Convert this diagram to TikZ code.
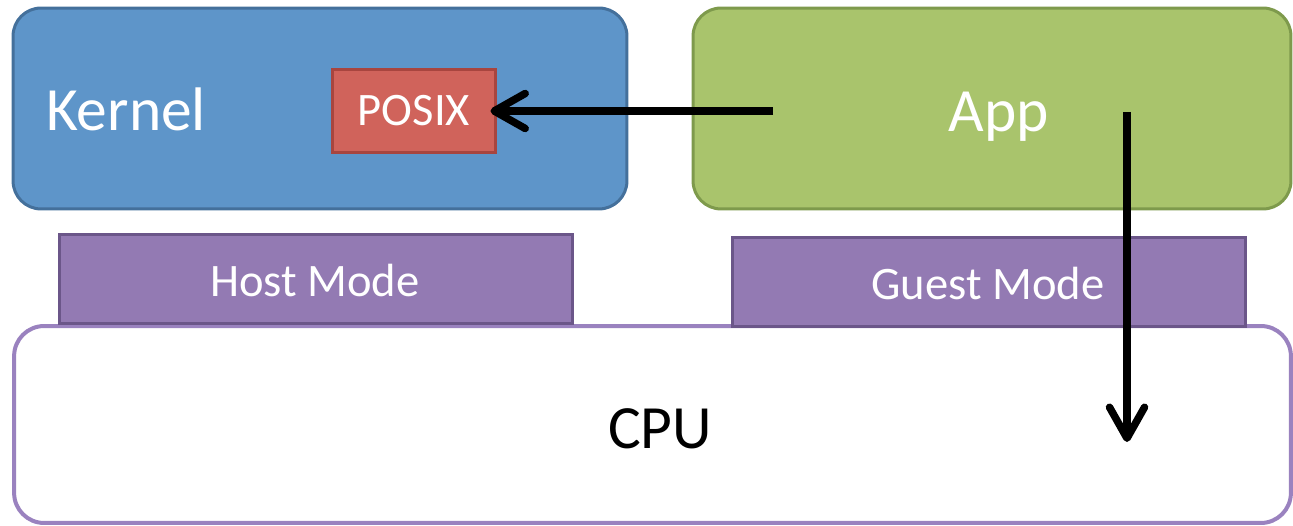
\documentclass[tikz,border=0pt]{standalone}
\usepackage{fontspec}
\setmainfont{Carlito}
\usetikzlibrary{arrows.meta}
\definecolor{kfill}{HTML}{5E95C9}
\definecolor{kdraw}{HTML}{44709B}
\definecolor{afill}{HTML}{A9C46C}
\definecolor{adraw}{HTML}{7E9A4C}
\definecolor{pfill}{HTML}{D0635B}
\definecolor{pdraw}{HTML}{A8453F}
\definecolor{mfill}{HTML}{937AB3}
\definecolor{mdraw}{HTML}{6B5689}
\definecolor{cdraw}{HTML}{9A82BF}
\tikzset{
  bigbox/.style={rectangle, rounded corners=0.56cm, line width=0.06cm, inner sep=0pt},
  modebox/.style={rectangle, fill=mfill, draw=mdraw, line width=0.06cm, inner sep=0pt, minimum width=10.28cm, minimum height=1.8cm},
  bigtext/.style={text=white, font=\fontsize{35}{40}\selectfont, inner sep=0pt, anchor=base},
  modetext/.style={text=white, font=\fontsize{26.5}{30}\selectfont, inner sep=0pt, anchor=base},
  arr/.style={line width=0.15cm, -{Straight Barb[length=0.62cm, width=0.7cm, line cap=round, line join=round]}}
}
\begin{document}
\begin{tikzpicture}[x=0.02cm, y=-0.02cm]
\useasboundingbox (0,0) rectangle (1293,526);
\node[bigbox, draw=cdraw, fill=white, line width=0.08cm, rounded corners=0.6cm, minimum width=25.54cm, minimum height=3.94cm] (cpu) at (652.5,424.5) {};
\node[text=black, font=\fontsize{35}{40}\selectfont, inner sep=0pt, anchor=base] (cputext) at (660,448) {CPU};
\node[bigbox, fill=kfill, draw=kdraw, minimum width=12.28cm, minimum height=4.02cm] (kernel) at (320,108.5) {};
\node[bigtext] (kerneltext) at (126,131) {Kernel};
\node[bigbox, fill=afill, draw=adraw, minimum width=11.96cm, minimum height=4.02cm] (app) at (992,108.5) {};
\node[bigtext] (apptext) at (999,132) {App};
\node[rectangle, fill=pfill, draw=pdraw, line width=0.06cm, inner sep=0pt, minimum width=3.28cm, minimum height=1.68cm] (posix) at (414,111) {};
\node[modetext] (posixtext) at (414,126) {POSIX};
\node[modebox] (host) at (316,279) {};
\node[modetext] (hosttext) at (315,297) {Host Mode};
\node[modebox] (guest) at (989,282) {};
\node[modetext] (guesttext) at (988,300) {Guest Mode};
\coordinate (a1) at (773,111);
\coordinate (b1) at (1127,112);
\coordinate (b2) at (1127,442);
\draw[arr, shorten >=-4] (a1) -- (posix.east);
\draw[arr] (b1) -- (b2);
\end{tikzpicture}
\end{document}
